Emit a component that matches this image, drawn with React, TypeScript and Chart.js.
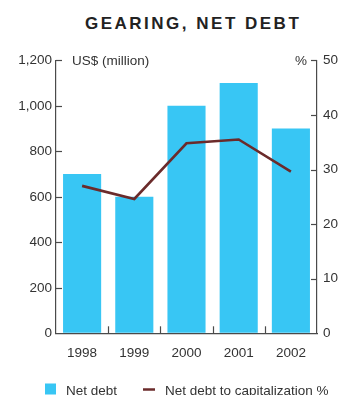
import React, { useEffect, useRef } from "react";
import { Chart, registerables } from "chart.js";

Chart.register(...registerables);

const categories = ["1998", "1999", "2000", "2001", "2002"];
const netDebt = [700, 600, 1000, 1100, 900];
const netDebtToCap = [27.0, 24.6, 34.8, 35.5, 29.6];
const leftTicks = [0, 200, 400, 600, 800, 1000, 1200];
const rightTicks = [0, 10, 20, 30, 40, 50];

const BAR_COLOR = "#38C6F4";
const LINE_COLOR = "#6B2B2B";
const TEXT_COLOR = "#333333";
const AXIS_COLOR = "#4a4a4a";
const FONT = "'Liberation Sans', Arial, Helvetica, sans-serif";
const FS = 13.5;

const decorPlugin = {
  id: "decor",
  afterDatasetsDraw(chart: any) {
    const { ctx, chartArea, scales } = chart;
    const { left, right, top, bottom } = chartArea;
    ctx.save();
    ctx.strokeStyle = AXIS_COLOR;
    ctx.lineWidth = 1.2;
    leftTicks.forEach((v) => {
      if (v === 0) return;
      const y = Math.round(scales.y.getPixelForValue(v)) + 0.5;
      ctx.beginPath();
      ctx.moveTo(left, y);
      ctx.lineTo(left + 6, y);
      ctx.stroke();
    });
    rightTicks.forEach((v) => {
      if (v === 0) return;
      const y = Math.round(scales.y1.getPixelForValue(v)) + 0.5;
      ctx.beginPath();
      ctx.moveTo(right - 6, y);
      ctx.lineTo(right, y);
      ctx.stroke();
    });
    for (let i = 1; i < categories.length; i++) {
      const x =
        Math.round(
          (scales.x.getPixelForTick(i - 1) + scales.x.getPixelForTick(i)) / 2
        ) + 0.5;
      ctx.beginPath();
      ctx.moveTo(x, bottom);
      ctx.lineTo(x, bottom - 7);
      ctx.stroke();
    }
    ctx.fillStyle = TEXT_COLOR;
    ctx.font = `${FS}px ${FONT}`;
    ctx.textBaseline = "middle";
    ctx.textAlign = "left";
    ctx.fillText("US$ (million)", left + 16, top + 1);
    ctx.textAlign = "right";
    ctx.fillText("%", right - 10, top + 1);

    ctx.textBaseline = "alphabetic";
    ctx.textAlign = "left";
    ctx.fillStyle = BAR_COLOR;
    ctx.fillRect(45, 383.5, 11, 11);
    ctx.fillStyle = TEXT_COLOR;
    ctx.fillText("Net debt", 66, 394.5);
    ctx.strokeStyle = LINE_COLOR;
    ctx.lineWidth = 2.5;
    ctx.beginPath();
    ctx.moveTo(143, 389.5);
    ctx.lineTo(155, 389.5);
    ctx.stroke();
    ctx.fillStyle = TEXT_COLOR;
    ctx.fillText("Net debt to capitalization %", 165, 394.5);
    ctx.restore();
  },
};

export default function App() {
  const canvasRef = useRef<HTMLCanvasElement | null>(null);

  useEffect(() => {
    if (!canvasRef.current) return;
    const chart = new Chart(canvasRef.current, {
      type: "bar",
      data: {
        labels: categories,
        datasets: [
          {
            type: "line",
            label: "Net debt to capitalization %",
            data: netDebtToCap,
            yAxisID: "y1",
            borderColor: LINE_COLOR,
            backgroundColor: LINE_COLOR,
            borderWidth: 2.6,
            pointRadius: 0,
            tension: 0,
            order: 0,
          } as any,
          {
            type: "bar",
            label: "Net debt",
            data: netDebt,
            yAxisID: "y",
            backgroundColor: BAR_COLOR,
            borderWidth: 0,
            barPercentage: 0.73,
            categoryPercentage: 1,
            order: 1,
          },
        ],
      },
      options: {
        responsive: false,
        animation: false,
        layout: { padding: { top: 60.3, bottom: 31.7, left: 0, right: 0 } },
        plugins: {
          legend: { display: false },
          title: { display: false },
          tooltip: { enabled: false },
        },
        scales: {
          x: {
            offset: true,
            grid: { display: true, drawOnChartArea: false, drawTicks: false },
            border: { color: AXIS_COLOR, width: 1.2 },
            ticks: {
              color: TEXT_COLOR,
              font: { size: FS, family: FONT },
              padding: 12,
              maxRotation: 0,
            },
            afterFit: (s: any) => {
              s.height = 30;
            },
          },
          y: {
            position: "left",
            min: 0,
            max: 1200,
            grid: { drawOnChartArea: false, drawTicks: false },
            border: { color: AXIS_COLOR, width: 1.2 },
            afterBuildTicks: (s: any) => {
              s.ticks = leftTicks.map((v) => ({ value: v }));
            },
            ticks: {
              color: TEXT_COLOR,
              font: { size: FS, family: FONT },
              padding: 4,
              callback: (v: any) => Number(v).toLocaleString("en-US"),
            },
            afterFit: (s: any) => {
              s.width = 56;
            },
          },
          y1: {
            position: "right",
            min: 0,
            max: 50,
            grid: { drawOnChartArea: false, drawTicks: false },
            border: { color: AXIS_COLOR, width: 1.2 },
            afterBuildTicks: (s: any) => {
              s.ticks = rightTicks.map((v) => ({ value: v }));
            },
            ticks: {
              color: TEXT_COLOR,
              font: { size: FS, family: FONT },
              padding: 6,
            },
            afterFit: (s: any) => {
              s.width = 23;
            },
          },
        },
      },
      plugins: [decorPlugin],
    });
    return () => chart.destroy();
  }, []);

  return (
    <div
      style={{
        position: "fixed",
        left: 0,
        top: 0,
        width: 340,
        height: 395,
        background: "#ffffff",
        overflow: "hidden",
      }}
    >
      <div
        style={{
          position: "absolute",
          left: 85,
          top: 14.5,
          fontFamily: FONT,
          fontWeight: "bold",
          fontSize: 17,
          lineHeight: "17px",
          letterSpacing: "2.5px",
          color: "#222222",
          whiteSpace: "nowrap",
        }}
      >
        GEARING, NET DEBT
      </div>
      <canvas
        ref={canvasRef}
        width={340}
        height={395}
        style={{ position: "absolute", left: 0, top: 0 }}
      />
    </div>
  );
}
